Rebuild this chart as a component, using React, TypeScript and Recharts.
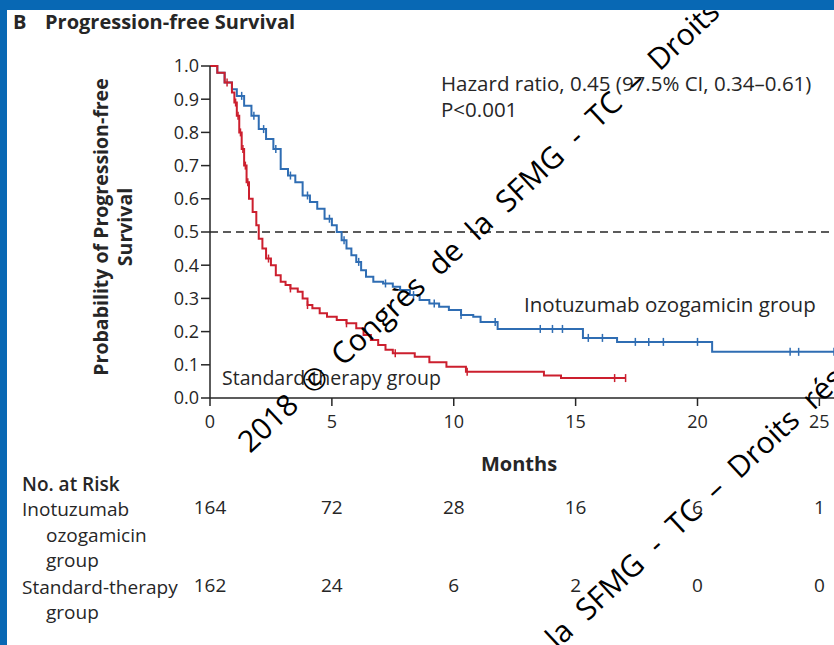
import React from 'react';
import { LineChart, Line, XAxis, YAxis, ReferenceLine } from 'recharts';

// Kaplan-Meier progression-free survival, months vs probability
const months = [0, 5, 10, 15, 20, 25];
const yTicks = [0, 0.1, 0.2, 0.3, 0.4, 0.5, 0.6, 0.7, 0.8, 0.9, 1.0];

const inoTimes = [0, 0.3, 0.6, 0.9, 1.1, 1.4, 1.7, 2.0, 2.3, 2.6, 2.9, 3.2, 3.5, 3.8, 4.1, 4.4, 4.7, 5.0, 5.2, 5.4, 5.6, 5.8, 6.0, 6.2, 6.4, 6.7, 7.1, 7.5, 7.8, 8.2, 8.6, 9.0, 9.4, 9.8, 10.3, 10.8, 11.1, 11.8, 15.3, 16.7, 20.6];
const inoSurvival = [1.0, 0.98, 0.95, 0.93, 0.91, 0.88, 0.85, 0.81, 0.78, 0.75, 0.69, 0.67, 0.65, 0.61, 0.59, 0.57, 0.54, 0.52, 0.5, 0.475, 0.45, 0.43, 0.41, 0.385, 0.365, 0.35, 0.345, 0.335, 0.325, 0.31, 0.295, 0.285, 0.275, 0.265, 0.25, 0.245, 0.229, 0.208, 0.181, 0.169, 0.139];
const inoCensored = [1.3, 1.8, 2.2, 2.7, 3.3, 4.0, 4.9, 5.5, 6.1, 7.2, 8.35, 9.2, 10.3, 11.7, 13.55, 14.05, 14.46, 15.52, 16.1, 17.45, 18.0, 18.6, 20.0, 23.8, 24.15, 25.6];

const stdTimes = [0, 0.3, 0.6, 0.9, 1.0, 1.1, 1.2, 1.3, 1.4, 1.5, 1.6, 1.75, 1.9, 2.0, 2.15, 2.3, 2.5, 2.7, 2.9, 3.1, 3.3, 3.6, 3.8, 4.0, 4.2, 4.5, 4.8, 5.2, 5.6, 6.0, 6.3, 6.6, 6.9, 7.2, 7.5, 8.4, 9.0, 9.7, 10.5, 13.7, 14.4];
const stdSurvival = [1.0, 0.98, 0.95, 0.92, 0.89, 0.85, 0.8, 0.75, 0.7, 0.65, 0.6, 0.56, 0.52, 0.48, 0.45, 0.42, 0.4, 0.37, 0.35, 0.34, 0.33, 0.32, 0.3, 0.28, 0.27, 0.255, 0.245, 0.235, 0.225, 0.21, 0.19, 0.175, 0.16, 0.145, 0.135, 0.124, 0.108, 0.094, 0.079, 0.068, 0.06];
const stdCensored = [0.7, 1.05, 1.15, 1.25, 1.35, 1.45, 1.55, 2.4, 3.3, 4.0, 5.6, 7.6, 10.55, 16.6, 17.05];

const inoAtRisk = [164, 72, 28, 16, 6, 1];
const stdAtRisk = [162, 24, 6, 2, 0, 0];

const BLUE = '#2f6db3';
const RED = '#cc1f2e';
const TEXT = '#262626';
const FONT = '"Open Sans", sans-serif';
const WATERMARK = '2018 © Congrès de la SFMG - TC – Droits réservés';

type Pt = { t: number; s: number; censor: boolean };

// merge step points with censoring marks (a mark sits on the current step level)
function kmPoints(times: number[], surv: number[], censored: number[]): Pt[] {
  const steps = times.map((t, i) => ({ t, s: surv[i], censor: false }));
  const marks = censored.map((t) => {
    let s = surv[0];
    times.forEach((tt, i) => {
      if (tt <= t) s = surv[i];
    });
    return { t, s, censor: true };
  });
  return [...steps, ...marks].sort((a, b) => a.t - b.t || Number(a.censor) - Number(b.censor));
}

const inoData = kmPoints(inoTimes, inoSurvival, inoCensored);
const stdData = kmPoints(stdTimes, stdSurvival, stdCensored);

const censorDot = (color: string) => (props: any) => {
  const { cx, cy, payload, index } = props;
  if (!payload || !payload.censor) return <g key={index} />;
  return <line key={index} x1={cx} x2={cx} y1={cy - 4} y2={cy + 4} stroke={color} strokeWidth={1.5} />;
};

// month tick plus the number-at-risk rows underneath it
const MonthTick = (props: any) => {
  const { x, y, payload } = props;
  const i = months.indexOf(payload.value);
  const common = { x, textAnchor: 'middle' as const, dominantBaseline: 'central' as const, fontFamily: FONT, fill: TEXT };
  return (
    <g>
      <text {...common} y={y + 13} fontSize={18}>{payload.value}</text>
      <text {...common} y={y + 99} fontSize={19}>{inoAtRisk[i]}</text>
      <text {...common} y={y + 177} fontSize={19}>{stdAtRisk[i]}</text>
    </g>
  );
};

const Overlay = () => (
  <svg width={834} height={645} style={{ position: 'absolute', left: 0, top: 0, pointerEvents: 'none' }}>
    <g fontFamily={FONT} fill={TEXT} dominantBaseline="central">
      <text x={13} y={21} fontSize={20} fontWeight={700}>B</text>
      <text x={45} y={21} fontSize={20} fontWeight={700}>Progression-free Survival</text>

      <text transform="translate(100,227) rotate(-90)" textAnchor="middle" fontSize={19.5} fontWeight={700}>
        Probability of Progression-free
      </text>
      <text transform="translate(124,227) rotate(-90)" textAnchor="middle" fontSize={19.5} fontWeight={700}>
        Survival
      </text>

      <text x={441} y={83} fontSize={20.5}>Hazard ratio, 0.45 (97.5% CI, 0.34–0.61)</text>
      <text x={441} y={109} fontSize={20.5}>P&lt;0.001</text>

      <text x={524} y={304} fontSize={20.5}>Inotuzumab ozogamicin group</text>
      <text x={222} y={377} fontSize={19.5}>Standard-therapy group</text>

      <text x={519} y={463} textAnchor="middle" fontSize={20} fontWeight={700}>Months</text>

      <text x={22} y={484} fontSize={19} fontWeight={600}>No. at Risk</text>
      <text x={22} y={509} fontSize={19}>Inotuzumab</text>
      <text x={46} y={535} fontSize={19}>ozogamicin</text>
      <text x={46} y={560} fontSize={19}>group</text>
      <text x={22} y={587} fontSize={19}>Standard-therapy</text>
      <text x={46} y={612} fontSize={19}>group</text>
    </g>

    <g fontFamily={FONT} fontSize={30} fill="#000" wordSpacing={9}>
      <text transform="translate(250,454) rotate(-43)">{WATERMARK}</text>
      <text transform="translate(330,862) rotate(-43)">{WATERMARK}</text>
    </g>
  </svg>
);

export default function App() {
  return (
    <div style={{ position: 'absolute', left: 0, top: 0, width: 834, height: 645, background: '#fff', overflow: 'hidden' }}>
      <LineChart width={834} height={645} margin={{ top: 66, right: 0, left: 150, bottom: 0 }}>
        <XAxis
          type="number"
          dataKey="t"
          domain={[0, 25.6]}
          allowDataOverflow
          ticks={months}
          tick={<MonthTick />}
          tickSize={8}
          height={247}
          axisLine={{ stroke: TEXT, strokeWidth: 1.5 }}
          tickLine={{ stroke: TEXT, strokeWidth: 1.5 }}
        />
        <YAxis
          type="number"
          domain={[0, 1]}
          ticks={yTicks}
          width={60}
          tickSize={9}
          tickMargin={2}
          tickFormatter={(v: number) => v.toFixed(1)}
          tick={{ fontSize: 18, fill: TEXT, fontFamily: FONT }}
          axisLine={{ stroke: TEXT, strokeWidth: 1.5 }}
          tickLine={{ stroke: TEXT, strokeWidth: 1.5 }}
        />
        <ReferenceLine y={0.5} stroke={TEXT} strokeWidth={1.3} strokeDasharray="8 5" />
        <Line
          data={inoData}
          type="stepAfter"
          dataKey="s"
          stroke={BLUE}
          strokeWidth={2}
          dot={censorDot(BLUE)}
          activeDot={false}
          isAnimationActive={false}
        />
        <Line
          data={stdData}
          type="stepAfter"
          dataKey="s"
          stroke={RED}
          strokeWidth={2}
          dot={censorDot(RED)}
          activeDot={false}
          isAnimationActive={false}
        />
      </LineChart>
      <Overlay />
      <div style={{ position: 'absolute', left: 0, top: 0, width: 834, height: 10, background: '#0868b4' }} />
      <div style={{ position: 'absolute', left: 0, top: 0, width: 7, height: 645, background: '#0868b4' }} />
    </div>
  );
}
